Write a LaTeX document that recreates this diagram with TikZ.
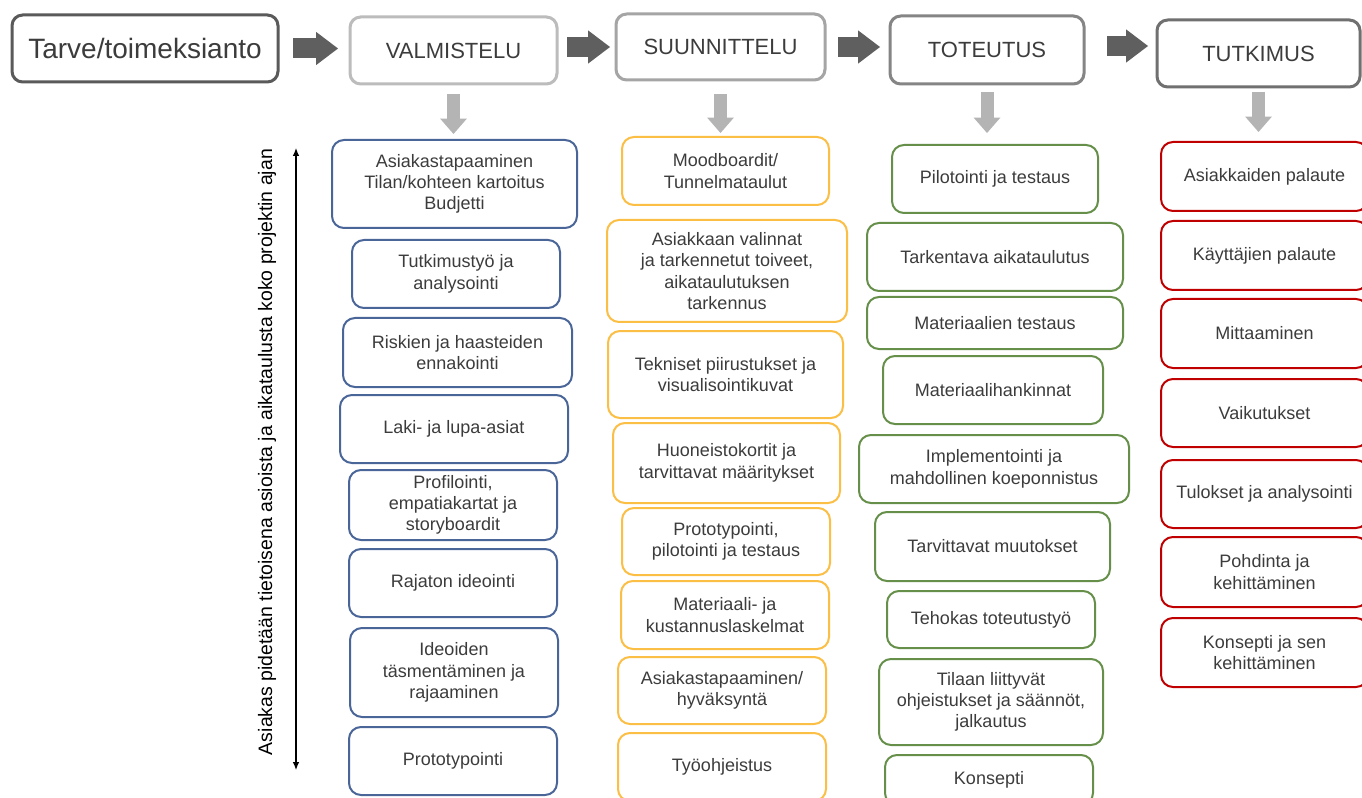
\documentclass[tikz,border=0pt]{standalone}
\usepackage{fontspec}
\setmainfont{Liberation Sans}
\usetikzlibrary{arrows.meta}
\definecolor{txt}{HTML}{3C3C3C}
\definecolor{cblue}{HTML}{4A6699}
\definecolor{cyel}{HTML}{FBBF45}
\definecolor{cgreen}{HTML}{66904A}
\definecolor{cred}{HTML}{C00000}
\definecolor{hA}{HTML}{5A5A5A}
\definecolor{hB}{HTML}{BCBCBC}
\definecolor{hC}{HTML}{A5A5A5}
\definecolor{hD}{HTML}{858585}
\definecolor{hE}{HTML}{707070}
\definecolor{darkarr}{HTML}{5F5F5F}
\definecolor{lightarr}{HTML}{B4B4B4}
\newcommand\bodyfont{\fontsize{13.5}{16}\selectfont}
\newcommand\bx[7]{%
  \pgfmathsetmacro\bxcx{(#2+#4)/2}%
  \pgfmathsetmacro\bxcy{(#3+#5)/2}%
  \pgfmathsetmacro\bxw{(#4-#2)*0.75}%
  \pgfmathsetmacro\bxh{(#5-#3)*0.75}%
  \node[#6, minimum width=\bxw pt, minimum height=\bxh pt] (#1) at (\bxcx,\bxcy) {#7};}
\begin{document}
\begin{tikzpicture}[x=0.75pt,y=-0.75pt,
  cbox/.style={draw=#1, line width=1.5pt, rounded corners=9pt, inner sep=0pt, outer sep=0pt,
    align=center, text=txt, font=\bodyfont, fill=white},
  hbox/.style={draw=#1, line width=2.25pt, rounded corners=8pt, inner sep=0pt, outer sep=0pt,
    align=center, text=txt, font=\fontsize{16.5}{19}\selectfont, fill=white},
  harrow/.style={draw=darkarr, line width=15pt,
    -{Triangle[width=25pt,length=16.5pt,line width=0pt]}},
  darrow/.style={draw=lightarr, line width=9.75pt,
    -{Triangle[width=20pt,length=11.5pt,line width=0pt]}},
  timearrow/.style={draw=black, line width=0.9pt,
    {Latex[length=6pt,width=5pt]}-{Latex[length=6pt,width=5pt]}}
]
\fill[white] (0,0) rectangle (1362,798);
\useasboundingbox (0,0) rectangle (1362,798);

% headers
\bx{h0}{12}{15}{278}{82}{hbox=hA, font=\fontsize{21}{24}\selectfont}{Tarve/toimeksianto}
\bx{h1}{350}{17}{557}{84}{hbox=hB}{VALMISTELU}
\bx{h2}{616}{14}{825}{80}{hbox=hC}{SUUNNITTELU}
\bx{h3}{890}{16}{1084}{84}{hbox=hD}{TOTEUTUS}
\bx{h4}{1157}{20}{1360}{87}{hbox=hE}{TUTKIMUS}

% blue column
\bx{b1}{332}{140}{577}{228}{cbox=cblue}{Asiakastapaaminen\\Tilan/kohteen kartoitus\\Budjetti}
\bx{b2}{352}{240}{560}{308}{cbox=cblue}{Tutkimustyö ja\\analysointi}
\bx{b3}{343}{318}{572}{387}{cbox=cblue}{Riskien ja haasteiden\\ennakointi}
\bx{b4}{340}{395}{568}{463}{cbox=cblue}{Laki- ja lupa-asiat}
\bx{b5}{349}{470}{557}{540}{cbox=cblue}{Profilointi,\\empatiakartat ja\\storyboardit}
\bx{b6}{349}{549}{557}{617}{cbox=cblue}{Rajaton ideointi}
\bx{b7}{350}{628}{558}{717}{cbox=cblue}{Ideoiden\\täsmentäminen ja\\rajaaminen}
\bx{b8}{349}{727}{557}{795}{cbox=cblue}{Prototypointi}

% yellow column
\bx{y1}{622}{137}{829}{205}{cbox=cyel}{Moodboardit/\\Tunnelmataulut}
\bx{y2}{607}{220}{847}{322}{cbox=cyel}{Asiakkaan valinnat\\ja tarkennetut toiveet,\\aikataulutuksen\\tarkennus}
\bx{y3}{608}{331}{843}{418}{cbox=cyel}{Tekniset piirustukset ja\\visualisointikuvat}
\bx{y4}{613}{423}{840}{503}{cbox=cyel}{Huoneistokortit ja\\tarvittavat määritykset}
\bx{y5}{622}{508}{830}{575}{cbox=cyel}{Prototypointi,\\pilotointi ja testaus}
\bx{y6}{621}{581}{829}{649}{cbox=cyel}{Materiaali- ja\\kustannuslaskelmat}
\bx{y7}{618}{657}{826}{724}{cbox=cyel}{Asiakastapaaminen/\\hyväksyntä}
\bx{y8}{618}{733}{826}{801}{cbox=cyel}{Työohjeistus}

% green column
\bx{g1}{892}{145}{1098}{213}{cbox=cgreen}{Pilotointi ja testaus}
\bx{g2}{867}{223}{1123}{291}{cbox=cgreen}{Tarkentava aikataulutus}
\bx{g3}{867}{297}{1123}{349}{cbox=cgreen}{Materiaalien testaus}
\bx{g4}{883}{356}{1103}{424}{cbox=cgreen}{Materiaalihankinnat}
\bx{g5}{859}{435}{1129}{503}{cbox=cgreen}{Implementointi ja\\mahdollinen koeponnistus}
\bx{g6}{875}{512}{1110}{581}{cbox=cgreen}{Tarvittavat muutokset}
\bx{g7}{887}{591}{1095}{648}{cbox=cgreen}{Tehokas toteutustyö}
\bx{g8}{879}{659}{1103}{745}{cbox=cgreen}{Tilaan liittyvät\\ohjeistukset ja säännöt,\\jalkautus}
\bx{g9}{885}{755}{1093}{805}{cbox=cgreen}{Konsepti}

% red column
\bx{r1}{1161}{142}{1368}{211}{cbox=cred}{Asiakkaiden palaute}
\bx{r2}{1161}{221}{1368}{290}{cbox=cred}{Käyttäjien palaute}
\bx{r3}{1161}{299}{1368}{368}{cbox=cred}{Mittaaminen}
\bx{r4}{1161}{379}{1368}{447}{cbox=cred}{Vaikutukset}
\bx{r5}{1161}{460}{1368}{528}{cbox=cred}{Tulokset ja analysointi}
\bx{r6}{1161}{537}{1368}{607}{cbox=cred}{Pohdinta ja\\kehittäminen}
\bx{r7}{1161}{618}{1368}{687}{cbox=cred}{Konsepti ja sen\\kehittäminen}

% horizontal block arrows
\draw[harrow, shorten <=11.25pt, shorten >=9pt] (h0.east) -- (h0.east -| h1.west);
\draw[harrow, shorten <=7.5pt, shorten >=4.5pt] (h2.west -| h1.east) -- (h2.west);
\draw[harrow, shorten <=9.75pt, shorten >=7.5pt] (h2.east) -- (h2.east -| h3.west);
\draw[harrow, shorten <=17.25pt, shorten >=6.75pt] ([yshift=3pt]h3.east) -- ([yshift=3pt]h3.east -| h4.west);

% down arrows
\draw[darrow, shorten <=7.5pt, shorten >=4.5pt] (h1.south) -- (h1.south |- b1.north);
\draw[darrow, shorten <=10.5pt, shorten >=3pt] (h2.south) -- (h2.south |- y1.north);
\draw[darrow, shorten <=6pt, shorten >=9pt] (h3.south) -- (h3.south |- g1.north);
\draw[darrow, shorten <=3.75pt, shorten >=7.5pt] (h4.south) -- (h4.south |- r1.north);

% time arrow and side text
\coordinate (tA) at (296,148);
\coordinate (tB) at (296,770);
\draw[timearrow] (tB) -- (tA);
\node[rotate=90, font=\fontsize{14.6}{17}\selectfont, text=black, inner sep=0pt] (side) at (267,452)
  {Asiakas pidetään tietoisena asioista ja aikataulusta koko projektin ajan};
\end{tikzpicture}
\end{document}
